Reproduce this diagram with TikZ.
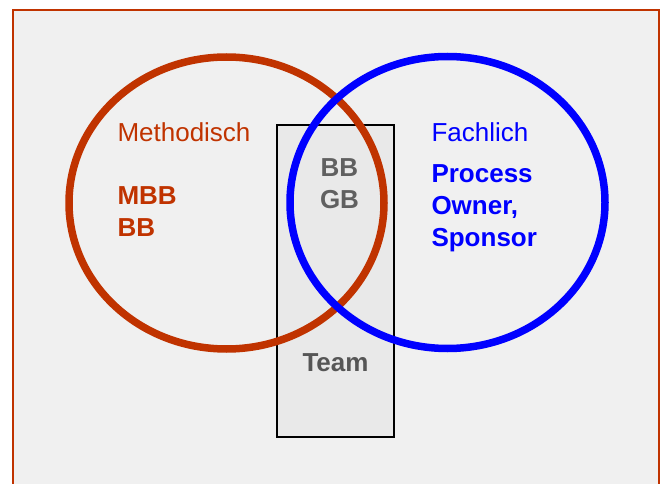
\documentclass[tikz,border=0pt]{standalone}
\usepackage{fontspec}
\setmainfont{Liberation Sans}
\usetikzlibrary{shapes.geometric}
\definecolor{methred}{RGB}{192,51,0}
\definecolor{fachblue}{RGB}{0,0,255}
\definecolor{bggray}{RGB}{240,240,240}
\definecolor{boxgray}{RGB}{233,233,233}
\definecolor{txtgray}{RGB}{96,96,96}
\tikzset{
  frame/.style={draw=methred, line width=2pt, fill=bggray},
  ring/.style={ellipse, draw, line width=7.5pt, minimum width=315pt, minimum height=292pt, inner sep=0pt, outer sep=0pt},
  teambox/.style={draw=black, line width=1.5pt, fill=boxgray},
  label/.style={inner sep=0pt, outer sep=0pt, font=\fontsize{26}{32}\selectfont, align=left},
  boldlabel/.style={label, font=\bfseries\fontsize{26}{32}\selectfont}
}
\begin{document}
\begin{tikzpicture}[x=1pt,y=-1pt]
\useasboundingbox (0,0) rectangle (662,484);
\fill[white] (0,0) rectangle (662,484);
\draw[frame] (13.3,10) rectangle (659.3,500);
\draw[teambox] (277,125) rectangle (394,437);
\node[ring, draw=methred] (meth) at (226.5,203) {};
\node[ring, draw=fachblue] (fach) at (447.5,202.5) {};
\node[label, text=methred, anchor=base west] (methlbl) at (117.5,142) {Methodisch};
\node[boldlabel, text=methred, anchor=north west] (methroles) at (117.5,187) {MBB\\BB};
\node[label, text=fachblue, anchor=base west] (fachlbl) at (431.5,142) {Fachlich};
\node[boldlabel, text=fachblue, anchor=north west] (fachroles) at (431.5,165) {Process\\Owner,\\Sponsor};
\node[boldlabel, text=txtgray, align=center, anchor=north] (shared) at (339.5,159) {BB\\GB};
\node[boldlabel, text=txtgray!90!black, anchor=base] (team) at (335.5,371) {Team};
\end{tikzpicture}
\end{document}
